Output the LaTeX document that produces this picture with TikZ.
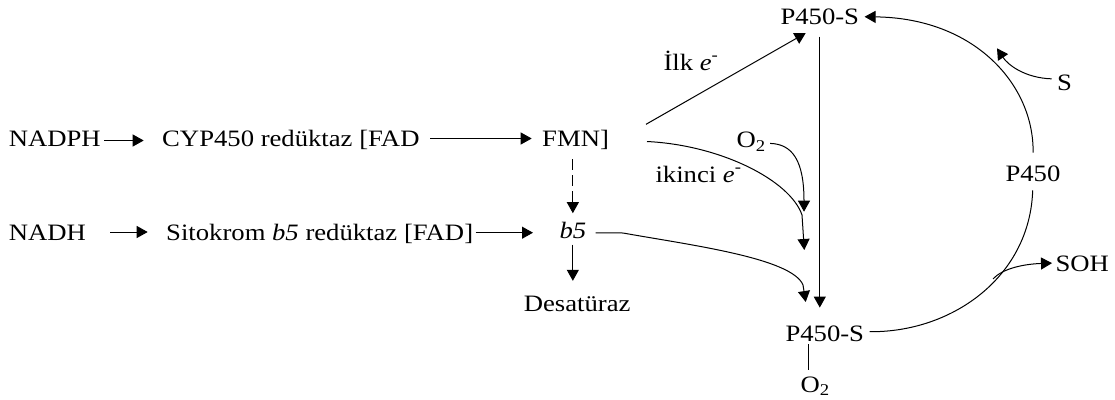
\documentclass[tikz,border=0pt]{standalone}
\usepackage{fontspec}
\setmainfont{Liberation Serif}[FakeStretch=1.135]
\usetikzlibrary{arrows.meta,calc}
\begin{document}
\begin{tikzpicture}[x=1pt,y=-1pt,line width=1pt,
  lbl/.style={inner sep=0pt,anchor=base west,font=\fontsize{23.5pt}{28pt}\selectfont},
  arr/.style={-{Triangle[length=11pt,width=12pt]}}]
\useasboundingbox (0,0) rectangle (1115,399);
% labels
\node[lbl] (nadph) at (8.3,146.5) {NADPH};
\node[lbl] (cyp) at (161.7,146.5) {CYP450 redüktaz [FAD};
\node[lbl] (fmn) at (541.7,146.5) {FMN]};
\node[lbl] (nadh) at (8.3,240) {NADH};
\node[lbl] (sito) at (165.7,240) {Sitokrom \textit{b5} redüktaz [FAD]};
\node[lbl] (b5) at (559,238) {\textit{b5}};
\node[lbl] (desat) at (523.3,311.7) {Desatüraz};
\node[lbl] (ps1) at (780,24) {P450-S};
\node[lbl] (ps2) at (785,341.7) {P450-S};
\node[lbl] (p450) at (1005,181.7) {P450};
\node[lbl] (s) at (1056.7,90) {S};
\node[lbl] (soh) at (1055,271) {SOH};
\node[lbl] (ilk) at (663,70) {İlk \textit{e}\textsuperscript{-}};
\node[lbl] (iki) at (655,182) {ikinci \textit{e}\textsuperscript{-}};
\node[lbl] (o2a) at (736,147.5) {O\textsubscript{2}};
\node[lbl] (o2b) at (800,392) {O\textsubscript{2}};
% left rows
\draw[arr,shorten <=3pt,shorten >=18pt] (nadph.east |- 0,140.5) -- (cyp.west |- 0,140.5);
\draw[arr,shorten <=10pt,shorten >=10pt] (cyp.east |- 0,138.5) -- (fmn.west |- 0,138.5);
\draw[arr,shorten <=24pt,shorten >=18pt] (nadh.east |- 0,232) -- (sito.west |- 0,232);
\draw[arr,shorten <=2pt,shorten >=26pt] (sito.east |- 0,232.7) -- (b5.west |- 0,232.7);
\draw[arr,dash pattern=on 11pt off 5pt,shorten <=9pt,shorten >=8pt] (fmn.south -| b5.north) -- (b5.north);
\draw[arr,shorten <=6pt,shorten >=15pt] (b5.south) -- (b5.south |- desat.north);
% electron transfers
\draw[arr] ($(fmn.east)+(36.6,-15.6)$) -- ($(ps1.south west)+(25.7,8.3)$);
\draw[arr] ($(fmn.east)+(37.6,1.6)$) .. controls (720,145) and (790,180) .. (802,215) -- (804.3,250);
\draw[arr,shorten <=4pt] (o2a.east |- 0,143.3) .. controls (792,144) and (804,160) .. (804,211.7);
\draw[arr,shorten <=9pt] (b5.east |- 0,232.7) -- (623,233) .. controls (690,245) and (792,258) .. (803,285) -- (805.7,302);
\draw[arr,shorten <=12pt,shorten >=18pt] (ps1.south) -- (ps1.south |- ps2.north);
\draw ([xshift=23.3pt,yshift=-1.6pt]ps2.south west) -- ([xshift=8.3pt,yshift=6pt]o2b.north west);
% P450 cycle
\draw[shorten <=5pt,shorten >=8pt] (ps2.east |- 0,331.7) -- (873,331.7) .. controls (955,331) and (1030,275) .. (p450.south);
\draw[arr,shorten <=13pt,shorten >=5pt] (p450.north) .. controls (1034,85) and (975,18) .. (ps1.east |- 0,16.7);
\draw[arr,shorten <=5pt] (s.west |- 0,79) .. controls (1025,78) and (1008,65) .. (997,48.3);
\draw[arr,shorten >=3pt] (993,279) .. controls (1003,268) and (1025,264) .. (soh.west |- 0,263);
\end{tikzpicture}
\end{document}
